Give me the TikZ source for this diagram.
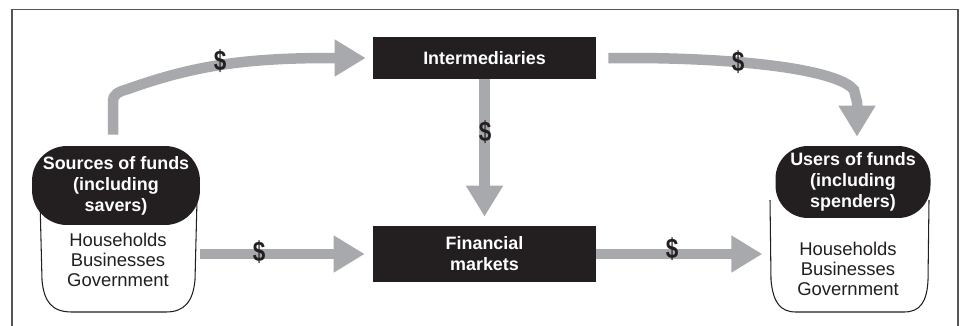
\documentclass[tikz,border=0pt]{standalone}
\usepackage{fontspec}
\setmainfont{Liberation Sans}
\usetikzlibrary{arrows.meta}
\definecolor{flowgray}{HTML}{A7A9AC}
\definecolor{boxblack}{HTML}{231F20}
\definecolor{framegray}{HTML}{555555}

\begin{document}
\begin{tikzpicture}[x=0.02cm, y=-0.02cm,
  every node/.style={text=boxblack, font=\fontsize{10.5}{11.6}\selectfont},
  flow/.style={draw=flowgray, line width=0.21cm, -{Triangle[length=0.62cm, width=0.7cm]}},
  bar/.style={fill=boxblack, text=white, font=\bfseries\fontsize{10.2}{12}\selectfont, align=center, inner sep=0pt},
  headbox/.style={bar, rounded corners=0.7cm},
  bucket/.style={draw=boxblack, fill=white, line width=0.6pt},
  body/.style={align=center, inner sep=0pt},
  dollar/.style={font=\bfseries\fontsize{16}{16}\selectfont, inner sep=0pt}]
\useasboundingbox (0,0) rectangle (962,325);
\draw[framegray, line width=1.1pt] (12,330) -- (12,9.5) -- (958,9.5) -- (958,330);
\node[bar, minimum width=4.46cm, minimum height=0.84cm] (inter) at (484.5,58) {Intermediaries};
\node[bar, minimum width=4.46cm, minimum height=1.12cm] (fin) at (484.5,254) {Financial\\markets};
\draw[bucket] (40,200) -- (42,280) .. controls (44,302) and (52,312) .. (72,312) -- (166,312)
	.. controls (184,312) and (193,302) .. (195,280) -- (197,200);
\node[headbox, minimum width=3.36cm, minimum height=1.58cm] (srchead) at (116,185.5) {Sources of funds\\(including\\savers)};
\node[body] (srcbody) at (118,260) {Households\\Businesses\\Government};
\draw[bucket] (770,200) -- (771,280) .. controls (773,302) and (780,312) .. (796,312) -- (904,312)
	.. controls (920,312) and (927,302) .. (928,280) -- (929,200);
\node[headbox, minimum width=3.1cm, minimum height=1.44cm, rounded corners=0.65cm] (usrhead) at (853,182) {Users of funds\\(including\\spenders)};
\node[body] (usrbody) at (848,269) {Households\\Businesses\\Government};
\draw[flow] ([shift={(-3,-11)}]srchead.north) -- (113,102)
	.. controls (113,94) and (118,92) .. (128,89)
	.. controls (190,67) and (240,58) .. (330,58) -- ([shift={(-7,0)}]inter.west);
\draw[flow] ([shift={(12,0)}]inter.east) -- (640,58)
	.. controls (760,59) and (840,72) .. (854,90) -- (857,102) -- ([shift={(4,-9)}]usrhead.north);
\draw[flow] (inter.south) -- ([shift={(0,-9)}]fin.north);
\draw[flow] (srchead.east |- fin.west) -- ([shift={(-8,0)}]fin.west);
\draw[flow] (fin.east) -- ++(166,0);
\node[dollar] (d1) at (220,61) {\scalebox{0.8}[1]{\$}};
\node[dollar] (d2) at (485,132) {\scalebox{0.8}[1]{\$}};
\node[dollar] (d3) at (738,62) {\scalebox{0.8}[1]{\$}};
\node[dollar] (d4) at (259,252) {\scalebox{0.8}[1]{\$}};
\node[dollar] (d5) at (672,249) {\scalebox{0.8}[1]{\$}};
\end{tikzpicture}
\end{document}
